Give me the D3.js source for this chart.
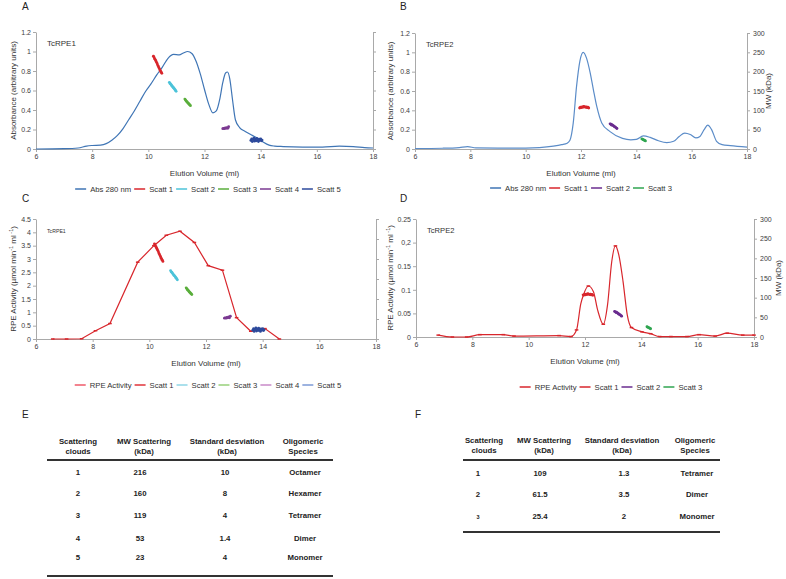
<!DOCTYPE html>
<html><head><meta charset="utf-8">
<script src="https://cdn.jsdelivr.net/npm/d3@7"></script>
<style>body{margin:0;background:#fff}svg{display:block;font-family:"Liberation Sans",Arial,sans-serif}</style>
</head><body><svg id="c" width="786" height="579"></svg>
<script>
// ---------- DATA ----------
const xTicks = [6, 8, 10, 12, 14, 16, 18];
const absTicks = [0, 0.2, 0.4, 0.6, 0.8, 1, 1.2];
const absTickLabels = ["0", "0.2", "0.4", "0.6", "0.8", "1", "1.2"];
const rpe1Ticks = [0, 0.5, 1, 1.5, 2, 2.5, 3, 3.5, 4, 4.5];
const rpe1TickLabels = ["0", "0.5", "1", "1.5", "2", "2.5", "3", "3.5", "4", "4.5"];
const rpe2Ticks = [0, 0.05, 0.1, 0.15, 0.2, 0.25];
const rpe2TickLabels = ["0", "0.05", "0.1", "0.15", "0,2", "0.25"];
const mwTicks = [0, 50, 100, 150, 200, 250, 300];

// TcRPE1 absorbance (panel A)
const abs1Vol = [6, 7, 7.5, 7.8, 8.0, 8.3, 8.5, 8.7, 8.9, 9.1, 9.3, 9.5, 9.7, 9.9, 10.1, 10.3, 10.5, 10.7, 10.9, 11.1, 11.25, 11.4, 11.55, 11.7, 11.85, 12.0, 12.15, 12.3, 12.42, 12.55, 12.65, 12.75, 12.82, 12.9, 13.0, 13.1, 13.25, 13.45, 13.7, 13.9, 14.1, 14.3, 14.5, 14.8, 15.5, 16.2, 16.8, 17.3, 17.7, 18];
const abs1Val = [0, 0.003, 0.01, 0.03, 0.036, 0.04, 0.055, 0.09, 0.14, 0.21, 0.3, 0.39, 0.49, 0.59, 0.67, 0.76, 0.84, 0.93, 0.97, 0.965, 0.985, 1.0, 0.98, 0.9, 0.77, 0.61, 0.46, 0.37, 0.39, 0.52, 0.68, 0.78, 0.79, 0.72, 0.5, 0.3, 0.22, 0.18, 0.14, 0.11, 0.07, 0.04, 0.03, 0.025, 0.02, 0.02, 0.03, 0.025, 0.015, 0.01];

// TcRPE2 absorbance (panel B)
const abs2Vol = [6, 7, 7.6, 7.9, 8.2, 9, 10, 10.5, 11, 11.3, 11.5, 11.6, 11.72, 11.84, 11.96, 12.08, 12.2, 12.33, 12.45, 12.57, 12.75, 13.05, 13.5, 13.8, 14.0, 14.25, 14.5, 14.8, 15.1, 15.35, 15.55, 15.75, 15.95, 16.15, 16.3, 16.45, 16.58, 16.72, 16.9, 17.1, 17.4, 18];
const abs2Val = [0.005, 0.008, 0.015, 0.025, 0.012, 0.01, 0.01, 0.015, 0.03, 0.045, 0.06, 0.09, 0.27, 0.65, 0.91, 1.0, 0.94, 0.79, 0.61, 0.44, 0.27, 0.18, 0.11, 0.095, 0.1, 0.135, 0.12, 0.085, 0.066, 0.08, 0.13, 0.165, 0.15, 0.115, 0.13, 0.2, 0.246, 0.2, 0.08, 0.045, 0.035, 0.02];

// TcRPE1 RPE activity (panel C)
const rpe1Vol = [6.59, 7.08, 7.61, 8.1, 8.61, 9.59, 10.16, 10.6, 11.08, 11.59, 12.08, 12.58, 13.08, 13.58, 14.08, 14.59];
const rpe1Val = [0, 0, 0.01, 0.31, 0.58, 2.88, 3.5, 3.89, 4.04, 3.62, 2.75, 2.58, 0.8, 0.29, 0.39, 0];

// TcRPE2 RPE activity (panel D)
const rpe2Vol = [6.79, 7.29, 7.8, 8.27, 9.1, 9.48, 11.08, 11.5, 11.7, 11.85, 11.95, 12.12, 12.3, 12.45, 12.65, 12.8, 12.95, 13.08, 13.2, 13.35, 13.5, 13.65, 14.02, 14.33, 14.65, 15.05, 15.62, 16.05, 16.62, 17.05, 17.6, 18.0];
const rpe2Val = [0.004, 0, 0, 0.005, 0.005, 0.002, 0.003, 0.001, 0.015, 0.07, 0.09, 0.108, 0.096, 0.057, 0.027, 0.068, 0.16, 0.193, 0.174, 0.118, 0.047, 0.02, 0.011, 0.007, 0.001, 0.001, 0.001, 0.005, 0.002, 0.008, 0.004, 0.004];
const rpe2Measured = [6.79, 7.29, 7.8, 8.27, 9.1, 9.48, 11.08, 11.5, 11.7, 11.95, 12.12, 12.65, 13.08, 13.65, 14.02, 14.33, 14.65, 15.05, 15.62, 16.05, 16.62, 17.05, 17.6, 18.0];

// Light-scattering clouds, TcRPE1: [elution ml, MW kDa]
const r1Scatt1 = [[10.18,238],[10.2,236],[10.22,232],[10.24,230],[10.26,227],[10.28,224],[10.3,221],[10.32,218],[10.34,214],[10.36,211],[10.38,208],[10.4,205],[10.42,202],[10.44,199],[10.46,197],[10.48,194]];
const r1Scatt2 = [[10.75,171],[10.77,168],[10.79,167],[10.81,165],[10.83,163],[10.85,161],[10.87,159],[10.89,158],[10.91,156],[10.93,154],[10.95,152],[10.97,150],[10.99,148]];
const r1Scatt3 = [[11.3,128],[11.32,126],[11.34,124],[11.36,122],[11.38,121],[11.4,119],[11.42,117],[11.44,116],[11.46,114],[11.48,113],[11.5,111]];
const r1Scatt4 = [[12.65,52],[12.68,53],[12.71,52],[12.74,54],[12.77,53],[12.8,55],[12.83,53],[12.86,57]];
const r1Scatt5 = [[13.65,22],[13.68,26],[13.7,19],[13.73,24],[13.76,28],[13.78,20],[13.81,25],[13.84,21],[13.86,27],[13.89,23],[13.92,19],[13.94,25],[13.97,22],[14.0,26],[14.03,21],[14.05,23]];

// Light-scattering clouds, TcRPE2
const r2Scatt1 = [[11.95,106],[11.98,108],[12.01,107],[12.04,109],[12.07,108],[12.1,110],[12.13,109],[12.16,108],[12.19,109],[12.22,107],[12.25,108],[12.28,106]];
const r2Scatt2 = [[13.05,65],[13.08,64],[13.1,62],[13.12,63],[13.15,61],[13.18,60],[13.2,58],[13.23,57],[13.25,56],[13.28,54],[13.3,53]];
const r2Scatt3 = [[14.2,26],[14.23,25],[14.25,24],[14.28,23],[14.3,22],[14.33,21]];

const legendA = ["Abs 280 nm", "Scatt 1", "Scatt 2", "Scatt 3", "Scatt 4", "Scatt 5"];
const legendB = ["Abs 280 nm", "Scatt 1", "Scatt 2", "Scatt 3"];
const legendC = ["RPE Activity", "Scatt 1", "Scatt 2", "Scatt 3", "Scatt 4", "Scatt 5"];
const legendD = ["RPE Activity", "Scatt 1", "Scatt 2", "Scatt 3"];

// Tables
const headE = [["Scattering","clouds"],["MW Scattering","(kDa)"],["Standard desviation","(kDa)"],["Oligomeric","Species"]];
const cloudsE = ["1","2","3","4","5"];
const mwE = ["216","160","119","53","23"];
const sdE = ["10","8","4","1.4","4"];
const speciesE = ["Octamer","Hexamer","Tetramer","Dimer","Monomer"];
const cloudsF = ["1","2","3"];
const mwF = ["109","61.5","25.4"];
const sdF = ["1.3","3.5","2"];
const speciesF = ["Tetramer","Dimer","Monomer"];

// ---------- DRAWING ----------
const svg = d3.select('#c');
const FONT = '"Liberation Sans",Arial,sans-serif';
const axisColor = '#a9a9a9';
const C = {abs:'#3f75b5', red:'#d8262c', cyan:'#4cc3d9', green:'#5aae3c', purple:'#7b3a92', navy:'#2d4a9c', purple2:'#6a2c8f', green2:'#2fa550'};

function styleAxis(g) {
  g.attr('font-family', null).attr('font-size', null);
  g.selectAll('path,line').attr('stroke', axisColor);
  g.selectAll('text').attr('fill', '#404040').style('font-size', '7px').style('font-family', FONT);
}

function panel(o) {
  const x = d3.scaleLinear().domain([6, 18]).range([o.l, o.r]);
  const y = d3.scaleLinear().domain([0, o.yMax]).range([o.b, o.t]);
  const y2 = d3.scaleLinear().domain([0, 300]).range([o.b, o.t]);
  const gx = svg.append('g').attr('transform', `translate(0,${o.b})`)
    .call(d3.axisBottom(x).tickValues(xTicks).tickSizeInner(3).tickSizeOuter(0).tickPadding(2).tickFormat(d3.format('d')));
  const gy = svg.append('g').attr('transform', `translate(${o.l},0)`)
    .call(d3.axisLeft(y).tickValues(o.yTicks).tickSizeInner(3).tickSizeOuter(0).tickPadding(2).tickFormat((d, i) => o.yLabels[i]));
  const gr = svg.append('g').attr('transform', `translate(${o.r},0)`)
    .call(d3.axisRight(y2).tickValues(mwTicks).tickSizeInner(3).tickSizeOuter(0).tickPadding(3).tickFormat(o.showMW ? (d => d) : (() => '')));
  [gx, gy, gr].forEach(styleAxis);

  // main curve
  const pts = o.vol.map((v, i) => [v, o.val[i]]);
  const line = d3.line().x(d => x(d[0])).y(d => y(d[1])).curve(o.curve);
  svg.append('path').datum(pts).attr('d', line).attr('fill', 'none')
    .attr('stroke', o.lineColor).attr('stroke-width', 1.2);
  if (o.markers) {
    const mk = o.markerVols ? pts.filter(d => o.markerVols.includes(d[0])) : pts;
    svg.append('g').selectAll('line').data(mk).join('line')
      .attr('x1', d => x(d[0]) - 1.8).attr('x2', d => x(d[0]) + 1.8)
      .attr('y1', d => y(d[1])).attr('y2', d => y(d[1]))
      .attr('stroke', o.lineColor).attr('stroke-width', 1.5);
  }
  // scatter clouds
  o.clouds.forEach(c => {
    svg.append('g').selectAll('circle').data(c.pts).join('circle')
      .attr('cx', d => x(d[0])).attr('cy', d => y2(d[1])).attr('r', 1.4).attr('fill', c.color);
  });

  // labels
  svg.append('text').attr('x', (o.l + o.r) / 2).attr('y', o.b + 27).attr('text-anchor', 'middle')
    .style('font-size', '8px').attr('fill', '#333').text('Elution Volume (ml)');
  svg.append('text').attr('x', o.l + 11).attr('y', o.t + 14).style('font-size', o.tagSize).attr('fill', '#333').text(o.tag);
  svg.append('text').attr('x', o.letterX).attr('y', o.letterY).style('font-size', '10px').attr('fill', '#222').text(o.letter);

  const yt = svg.append('text').attr('transform', `translate(${o.titleX},${(o.t + o.b) / 2}) rotate(-90)`)
    .attr('text-anchor', 'middle').style('font-size', '8px').attr('fill', '#333');
  if (o.rpeTitle) {
    yt.append('tspan').text('RPE Activity (µmol min');
    yt.append('tspan').attr('dy', -3).style('font-size', '5.5px').text('-1');
    yt.append('tspan').attr('dy', 3).text(' ml');
    yt.append('tspan').attr('dy', -3).style('font-size', '5.5px').text(' -1');
    yt.append('tspan').attr('dy', 3).text(')');
  } else {
    yt.text('Absorbance (arbitrary units)');
  }
  if (o.showMW) {
    svg.append('text').attr('transform', `translate(${o.mwX},${(o.t + o.b) / 2}) rotate(-90)`)
      .attr('text-anchor', 'middle').style('font-size', '8px').attr('fill', '#333').text('MW (kDa)');
  }

  // legend
  const lg = svg.append('g');
  let xx = 0;
  o.legend.forEach((lab, i) => {
    lg.append('line').attr('x1', xx).attr('x2', xx + 11).attr('y1', 0).attr('y2', 0)
      .attr('stroke', o.legendColors[i]).attr('stroke-width', 1.5);
    const t = lg.append('text').attr('x', xx + 15).attr('y', 0).attr('dy', '0.35em')
      .style('font-size', '7.7px').attr('fill', '#333').text(lab);
    xx += 15 + t.node().getComputedTextLength() + 3;
  });
  lg.attr('transform', `translate(${o.legendCx - (xx - 3) / 2},${o.legendY})`);
}

panel({l:36, r:373, t:32, b:149, yMax:1.2, yTicks:absTicks, yLabels:absTickLabels, showMW:false,
  vol:abs1Vol, val:abs1Val, curve:d3.curveMonotoneX, lineColor:C.abs, markers:false,
  clouds:[{pts:r1Scatt1,color:C.red},{pts:r1Scatt2,color:C.cyan},{pts:r1Scatt3,color:C.green},{pts:r1Scatt4,color:C.purple},{pts:r1Scatt5,color:C.navy}],
  tag:'TcRPE1', tagSize:'8px', letter:'A', letterX:22, letterY:10, titleX:16,
  legend:legendA, legendColors:[C.abs,C.red,C.cyan,C.green,C.purple,C.navy], legendCx:208, legendY:189});

panel({l:415, r:747, t:33, b:149, yMax:1.2, yTicks:absTicks, yLabels:absTickLabels, showMW:true, mwX:771,
  vol:abs2Vol, val:abs2Val, curve:d3.curveMonotoneX, lineColor:'#5b8cc8', markers:false,
  clouds:[{pts:r2Scatt1,color:C.red},{pts:r2Scatt2,color:C.purple2},{pts:r2Scatt3,color:C.green2}],
  tag:'TcRPE2', tagSize:'7.6px', letter:'B', letterX:400, letterY:10, titleX:393,
  legend:legendB, legendColors:[C.abs,C.red,C.purple2,C.green2], legendCx:581, legendY:188});

panel({l:36, r:376, t:219, b:339, yMax:4.5, yTicks:rpe1Ticks, yLabels:rpe1TickLabels, showMW:false, rpeTitle:true,
  vol:rpe1Vol, val:rpe1Val, curve:d3.curveLinear, lineColor:C.red, markers:true,
  clouds:[{pts:r1Scatt1,color:C.red},{pts:r1Scatt2,color:C.cyan},{pts:r1Scatt3,color:C.green},{pts:r1Scatt4,color:C.purple},{pts:r1Scatt5,color:C.navy}],
  tag:'TcRPE1', tagSize:'5.2px', letter:'C', letterX:22, letterY:202, titleX:16,
  legend:legendC, legendColors:['#ef5a6a','#e0333a','#8fd6e6','#97d07a','#c98ac9','#7d9ad6'], legendCx:208, legendY:385});

panel({l:416, r:754, t:219, b:337, yMax:0.25, yTicks:rpe2Ticks, yLabels:rpe2TickLabels, showMW:true, mwX:781, rpeTitle:true,
  vol:rpe2Vol, val:rpe2Val, curve:d3.curveMonotoneX, lineColor:C.red, markers:true, markerVols:rpe2Measured,
  clouds:[{pts:r2Scatt1,color:C.red},{pts:r2Scatt2,color:C.purple2},{pts:r2Scatt3,color:C.green2}],
  tag:'TcRPE2', tagSize:'7.6px', letter:'D', letterX:400, letterY:202, titleX:393,
  legend:legendD, legendColors:[C.red,C.red,C.purple2,C.green2], legendCx:611, legendY:387});

// Tables
function table(o) {
  svg.append('text').attr('x', o.letterX).attr('y', o.letterY).style('font-size', '10px').attr('fill', '#222').text(o.letter);
  headE.forEach((h, j) => {
    h.forEach((s, k) => {
      svg.append('text').attr('x', o.cols[j]).attr('y', o.headY + k * 10).attr('text-anchor', 'middle')
        .style('font-size', '7.8px').style('font-weight', 'bold').attr('fill', '#222').text(s);
    });
  });
  svg.append('line').attr('x1', o.x1).attr('x2', o.x2).attr('y1', o.line1).attr('y2', o.line1).attr('stroke', '#333').attr('stroke-width', 1.8);
  svg.append('line').attr('x1', o.x1).attr('x2', o.x2).attr('y1', o.line2).attr('y2', o.line2).attr('stroke', '#333').attr('stroke-width', 1.8);
  o.columns.forEach((col, j) => {
    col.forEach((s, i) => {
      svg.append('text').attr('x', o.cols[j] + (o.shift[j] || 0)).attr('y', o.rowY[i]).attr('text-anchor', 'middle')
        .style('font-size', (o.small && j === 0 && i === col.length - 1) ? '5.5px' : '7.8px')
        .style('font-weight', 'bold').attr('fill', '#222').text(s);
    });
  });
}
table({letter:'E', letterX:22, letterY:418, cols:[78,144,227,303], shift:[0,-4,-2,2], headY:444,
  x1:47, x2:333, line1:460, line2:576, rowY:[475,496,518,541,560], columns:[cloudsE, mwE, sdE, speciesE]});
table({letter:'F', letterX:415, letterY:418, cols:[484,544,622,695], shift:[-6,-4,2,2], headY:443,
  x1:463, x2:720, line1:460, line2:532, rowY:[476,497,519], columns:[cloudsF, mwF, sdF, speciesF], small:true});
</script></body></html>
